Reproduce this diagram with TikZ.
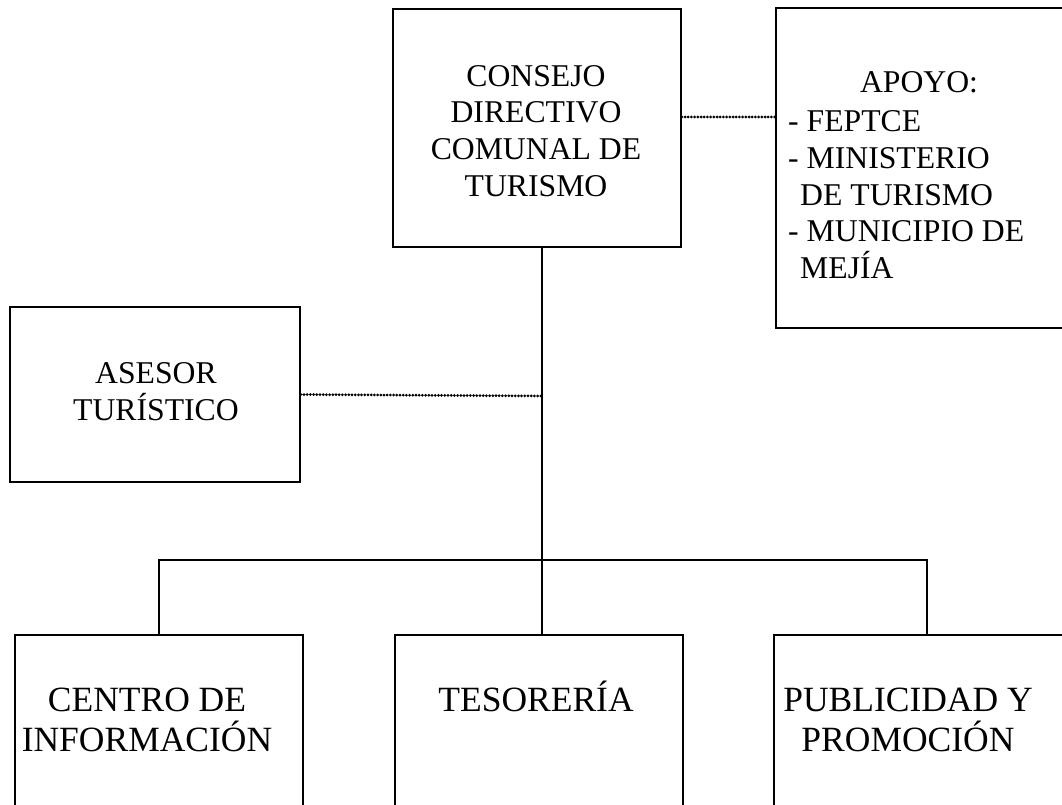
\documentclass[tikz,border=0pt]{standalone}
\usepackage{fontspec}
\setmainfont{Liberation Serif}
\usetikzlibrary{calc}
\tikzset{
  box/.style = {draw, line width=1.6pt, inner sep=0pt, minimum width=288pt},
  txt/.style = {inner sep=0pt, align=center, font=\fontsize{31.7pt}{36.7pt}\selectfont},
  bigtxt/.style = {txt, font=\fontsize{35.5pt}{40pt}\selectfont},
  conn/.style = {draw, line width=1.6pt},
  dots/.style = {draw, line width=3pt, line cap=round, dash pattern=on 0pt off 3.2pt},
}
\begin{document}
\begin{tikzpicture}[x=1pt, y=-1pt]
  \useasboundingbox (0,0) rectangle (1062,805);
  \clip (0,0) rectangle (1062,805);
  % cajas
  \node[box, minimum height=238pt] (consejo) at (537,128) {};
  \node[box, minimum width=304pt, minimum height=320pt] (apoyo) at (928,168) {};
  \node[box, minimum width=290pt, minimum height=175pt] (asesor) at (155,394.5) {};
  % cajas de abajo (cortadas)
  \node[box, minimum height=300pt] (centro) at (159,785) {};
  \node[box, minimum height=300pt] (tesoreria) at (539,785) {};
  \node[box, minimum width=306pt, minimum height=300pt] (publicidad) at (927,785) {};
  % textos
  \node[txt] (consejotxt) at (536,131) {CONSEJO\\DIRECTIVO\\COMUNAL DE\\TURISMO};
  \node[txt, anchor=base] (apoyotit) at (919,92.5) {APOYO:};
  \node[txt, align=left, anchor=north west] (apoyotxt) at (788,110.5)
    {- FEPTCE\\- MINISTERIO\\\hspace*{12pt}DE TURISMO\\- MUNICIPIO DE\\\hspace*{12pt}MEJÍA};
  \node[txt] (asesortxt) at (156,391.5) {ASESOR\\TURÍSTICO};
  \node[bigtxt] (centrotxt) at (147,720) {CENTRO DE\\INFORMACIÓN};
  \node[bigtxt, anchor=base] (tesoreriatxt) at (536,711.5) {TESORERÍA};
  \node[bigtxt] (publicidadtxt) at (908,720) {PUBLICIDAD Y\\PROMOCIÓN};
  % lineas
  \coordinate (junc) at (542,396);
  \coordinate (bus) at (542,560);
  \coordinate (apoyolvl) at (0,117);
  \path[conn] (consejo.south -| junc) -- (tesoreria.north -| junc);
  \path[dots] (asesor.east) -- (junc);
  \path[dots] (consejo.east |- apoyolvl) -- (apoyo.west |- apoyolvl);
  \path[conn] (centro.north) |- (bus) -| (publicidad.north);
\end{tikzpicture}
\end{document}
